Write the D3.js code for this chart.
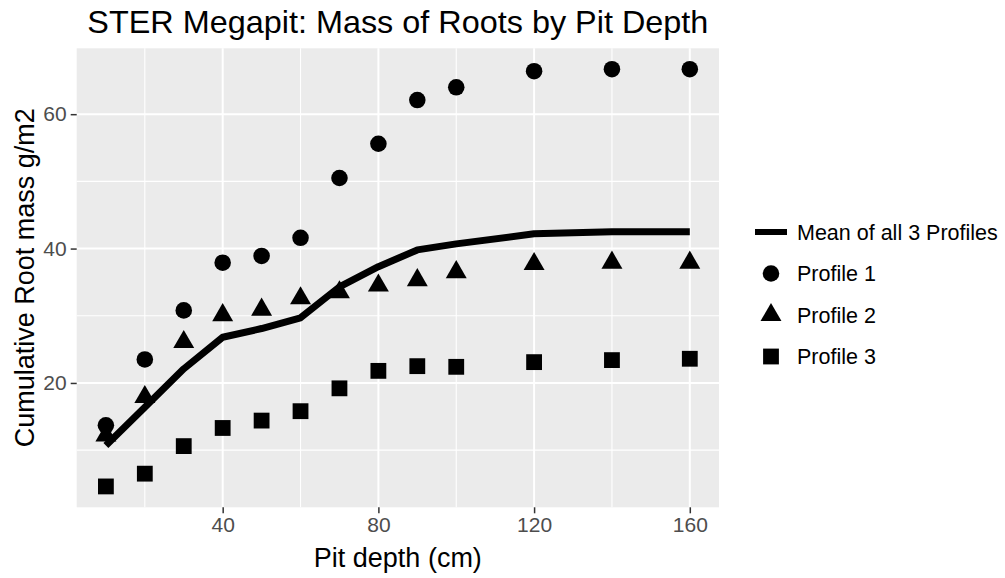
<!DOCTYPE html>
<html><head><meta charset="utf-8">
<script src="https://cdn.jsdelivr.net/npm/d3@7"></script>
<style>body{margin:0;background:#fff}svg text{font-family:"Liberation Sans",Arial,sans-serif}</style>
</head><body>
<svg id="chart" width="1005" height="578"></svg>
<script>
const depths = [10,20,30,40,50,60,70,80,90,100,120,140,160];
const profile1 = [13.7,23.5,30.8,37.9,38.9,41.6,50.5,55.6,62.1,64.0,66.4,66.7,66.7];
const profile2 = [12.2,17.9,26.1,30.1,30.9,32.6,33.5,34.5,35.3,36.5,37.7,37.9,37.9];
const profile3 = [4.6,6.5,10.6,13.3,14.4,15.8,19.2,21.8,22.5,22.4,23.1,23.4,23.6];
const meanProfile = [10.7,16.4,22.1,26.8,28.1,29.7,34.3,37.3,39.8,40.7,42.2,42.5,42.5];
const xTicks = [40,80,120,160];
const xMinor = [20,60,100,140];
const yTicks = [20,40,60];
const yMinor = [10,30,50];
const legendLabels = ["Mean of all 3 Profiles","Profile 1","Profile 2","Profile 3"];
const titleText = "STER Megapit: Mass of Roots by Pit Depth";
const xTitle = "Pit depth (cm)";
const yTitle = "Cumulative Root mass g/m2";

const svg = d3.select("#chart");
const P = {l:76.7, r:719, t:48.3, b:507.3};

const xExt = d3.extent(depths);
const xPad = (xExt[1]-xExt[0])*0.05;
const x = d3.scaleLinear().domain([xExt[0]-xPad, xExt[1]+xPad]).range([P.l, P.r]);
const allY = profile1.concat(profile2, profile3, meanProfile);
const yExt = d3.extent(allY);
const yPad = (yExt[1]-yExt[0])*0.05;
const y = d3.scaleLinear().domain([yExt[0]-yPad, yExt[1]+yPad]).range([P.b, P.t]);

// panel
svg.append("rect").attr("x",P.l).attr("y",P.t).attr("width",P.r-P.l).attr("height",P.b-P.t).attr("fill","#EBEBEB");
const g = svg.append("g");
g.selectAll(".xmin").data(xMinor).join("line").attr("x1",d=>x(d)).attr("x2",d=>x(d)).attr("y1",P.t).attr("y2",P.b).attr("stroke","#fff").attr("stroke-width",1.1);
g.selectAll(".ymin").data(yMinor).join("line").attr("y1",d=>y(d)).attr("y2",d=>y(d)).attr("x1",P.l).attr("x2",P.r).attr("stroke","#fff").attr("stroke-width",1.1);
g.selectAll(".xmaj").data(xTicks).join("line").attr("x1",d=>x(d)).attr("x2",d=>x(d)).attr("y1",P.t).attr("y2",P.b).attr("stroke","#fff").attr("stroke-width",2);
g.selectAll(".ymaj").data(yTicks).join("line").attr("y1",d=>y(d)).attr("y2",d=>y(d)).attr("x1",P.l).attr("x2",P.r).attr("stroke","#fff").attr("stroke-width",2);

// axes
const xAxis = d3.axisBottom(x).tickValues(xTicks).tickSize(6).tickPadding(4).tickFormat(d3.format("d"));
const yAxis = d3.axisLeft(y).tickValues(yTicks).tickSize(6).tickPadding(4).tickFormat(d3.format("d"));
const gx = svg.append("g").attr("transform",`translate(0,${P.b})`).call(xAxis);
const gy = svg.append("g").attr("transform",`translate(${P.l},0)`).call(yAxis);
[gx,gy].forEach(a=>{
  a.select(".domain").remove();
  a.selectAll(".tick line").attr("stroke","#333").attr("stroke-width",1.5);
  a.selectAll(".tick text").attr("fill","#4D4D4D").style("font-size","21px");
});

// mean line
const line = d3.line().x((d,i)=>x(depths[i])).y(d=>y(d));
svg.append("path").datum(meanProfile).attr("d",line).attr("fill","none").attr("stroke","#000").attr("stroke-width",7).attr("stroke-linejoin","round");

const symCircle = d3.symbol().type(d3.symbolCircle).size(215);
const symTri = d3.symbol().type(d3.symbolTriangle).size(190);
const symSq = d3.symbol().type(d3.symbolSquare).size(250);
function pts(data, sym){
  svg.append("g").selectAll("path").data(data).join("path")
    .attr("transform",(d,i)=>`translate(${x(depths[i])},${y(d)})`)
    .attr("d",sym()).attr("fill","#000");
}
pts(profile1, symCircle);
pts(profile2, symTri);
pts(profile3, symSq);

// titles
const cx = (P.l+P.r)/2, cy = (P.t+P.b)/2;
svg.append("text").attr("x",cx).attr("y",33).attr("text-anchor","middle").style("font-size","30.5px")
  .attr("textLength",621).attr("lengthAdjust","spacingAndGlyphs").attr("fill","#000").text(titleText);
svg.append("text").attr("x",cx).attr("y",567).attr("text-anchor","middle").style("font-size","27px").attr("fill","#000").text(xTitle);
svg.append("text").attr("transform",`translate(33.5,${cy}) rotate(-90)`).attr("text-anchor","middle").style("font-size","27px").attr("fill","#000").text(yTitle);

// legend
const rows = [232,273.5,315,356.5];
const lg = svg.append("g");
lg.append("line").attr("x1",755).attr("x2",787).attr("y1",rows[0]).attr("y2",rows[0]).attr("stroke","#000").attr("stroke-width",6);
lg.append("path").attr("transform",`translate(771,${rows[1]})`).attr("d",symCircle()).attr("fill","#000");
lg.append("path").attr("transform",`translate(771,${rows[2]})`).attr("d",symTri()).attr("fill","#000");
lg.append("path").attr("transform",`translate(771,${rows[3]})`).attr("d",symSq()).attr("fill","#000");
lg.selectAll("text").data(legendLabels).join("text").attr("x",797).attr("y",(d,i)=>rows[i]+7.5).style("font-size","21.5px").attr("fill","#000").text(d=>d);
</script>
</body></html>
